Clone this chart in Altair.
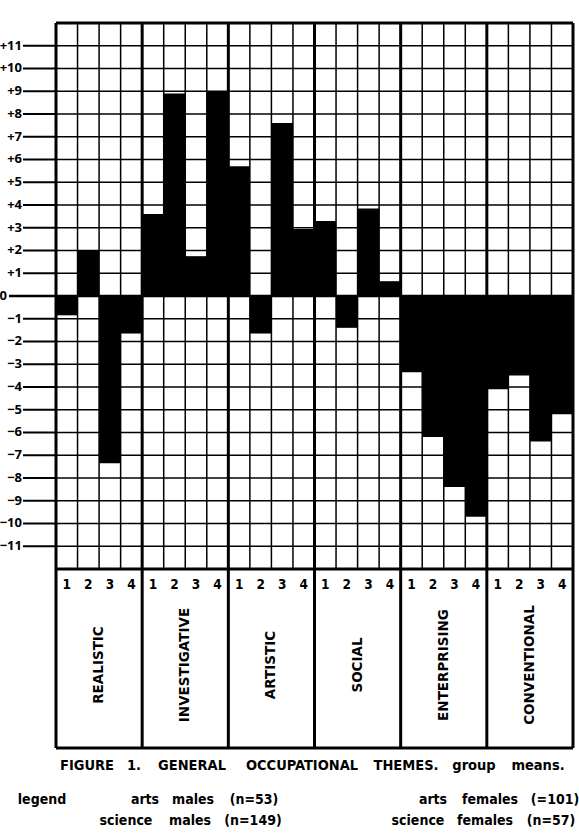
import altair as alt
import pandas as pd

# ---------------- data ----------------
themes = ["REALISTIC", "INVESTIGATIVE", "ARTISTIC", "SOCIAL", "ENTERPRISING", "CONVENTIONAL"]
groups = ["1", "2", "3", "4"]
realistic = [-0.85, 2.0, -7.35, -1.65]
investigative = [3.6, 8.9, 1.75, 9.0]
artistic = [5.7, -1.65, 7.6, 2.95]
social = [3.3, -1.4, 3.85, 0.65]
enterprising = [-3.35, -6.2, -8.4, -9.7]
conventional = [-4.1, -3.5, -6.4, -5.2]
y_ticks = list(range(-11, 12))
caption_words = ["FIGURE", "1.", "GENERAL", "OCCUPATIONAL", "THEMES.", "group", "means."]
legend_row1 = ["legend", "arts", "males", "(n=53)", "arts", "females", "(=101)"]
legend_row2 = ["science", "males", "(n=149)", "science", "females", "(n=57)"]

# ---------------- layout ----------------
W, H = 517, 725
PAD_L, PAD_T = 56, 23
Y_TOP, Y_BOT = 12, -19.87
FONT = "DejaVu Sans Condensed, DejaVu Sans"
AXFONT = "Open Sans"

series = [realistic, investigative, artistic, social, enterprising, conventional]
rows = []
for ti, (t, vals) in enumerate(zip(themes, series)):
    for gi, (g, v) in enumerate(zip(groups, vals)):
        idx = ti * 4 + gi
        rows.append({"theme": t, "group": g, "x0": idx, "x1": idx + 1,
                     "xc": idx + 0.5, "value": v, "base": 0})
bars_df = pd.DataFrame(rows)

xs = alt.Scale(domain=[0, 24], nice=False, zero=False)
ys = alt.Scale(domain=[Y_BOT, Y_TOP], nice=False, zero=False)


def fmt(v):
    if v > 0:
        return "+" + str(v)
    if v < 0:
        return "\u2212" + str(-v)
    return "0"


# hand-drawn style axis: ticks and labels
tick_df = pd.DataFrame({"y": [v for v in y_ticks if v != 0],
                        "lab": [fmt(v) for v in y_ticks if v != 0]})
ticks = alt.Chart(tick_df).mark_rule(color="black", strokeWidth=2).encode(
    x=alt.value(-33), x2=alt.value(0), y=alt.Y("y:Q", scale=ys, axis=None),
)
tick_labels = alt.Chart(tick_df).mark_text(
    font=AXFONT, fontSize=13, fontWeight="bold", color="black", align="right", baseline="middle",
).encode(
    x=alt.value(-34), y=alt.Y("y:Q", scale=ys, axis=None), text="lab:N",
)
zdf = pd.DataFrame({"y": [0], "lab": [fmt(0)]})
zero_tick = alt.Chart(zdf).mark_rule(color="black", strokeWidth=2.5).encode(
    x=alt.value(-47), x2=alt.value(0), y=alt.Y("y:Q", scale=ys, axis=None),
)
zero_label = alt.Chart(zdf).mark_text(
    font=AXFONT, fontSize=13, fontWeight="bold", color="black", align="right", baseline="middle",
).encode(
    x=alt.value(-49), y=alt.Y("y:Q", scale=ys, axis=None), text="lab:N",
)

# horizontal thin grid lines
h_df = pd.DataFrame({"y": [v for v in range(-11, 12) if v != 0], "x0": 0, "x1": 24})
h_rules = alt.Chart(h_df).mark_rule(color="black", strokeWidth=1.5).encode(
    x=alt.X("x0:Q", scale=xs, axis=None), x2="x1:Q",
    y=alt.Y("y:Q", scale=ys, axis=None),
)

zero_df = pd.DataFrame({"y": [0], "x0": [0], "x1": [24]})
zero_rule = alt.Chart(zero_df).mark_rule(color="black", strokeWidth=2.5).encode(
    x=alt.X("x0:Q", scale=xs, axis=None), x2="x1:Q",
    y=alt.Y("y:Q", scale=ys, axis=None),
)

v_df = pd.DataFrame({"x": [v for v in range(1, 24) if v % 4 != 0], "y0": -12, "y1": 12})
v_rules = alt.Chart(v_df).mark_rule(color="black", strokeWidth=1.5).encode(
    x=alt.X("x:Q", scale=xs, axis=None),
    y=alt.Y("y0:Q", scale=ys, axis=None), y2="y1:Q",
)

vt_df = pd.DataFrame({"x": list(range(0, 25, 4)), "y0": Y_BOT, "y1": Y_TOP})
vt_rules = alt.Chart(vt_df).mark_rule(color="black", strokeWidth=3).encode(
    x=alt.X("x:Q", scale=xs, axis=None),
    y=alt.Y("y0:Q", scale=ys, axis=None), y2="y1:Q",
)

ht_df = pd.DataFrame({"y": [Y_TOP, -12, Y_BOT], "x0": 0, "x1": 24})
ht_rules = alt.Chart(ht_df).mark_rule(color="black", strokeWidth=3).encode(
    x=alt.X("x0:Q", scale=xs, axis=None), x2="x1:Q",
    y=alt.Y("y:Q", scale=ys, axis=None),
)

bars = alt.Chart(bars_df).mark_rect(color="black").encode(
    x=alt.X("x0:Q", scale=xs, axis=None), x2="x1:Q",
    y=alt.Y("base:Q", scale=ys, axis=None), y2="value:Q",
)

nums = alt.Chart(bars_df).mark_text(
    font=FONT, fontSize=13.5, fontWeight="bold", color="black", baseline="middle"
).encode(
    x=alt.X("xc:Q", scale=xs, axis=None), y=alt.value(585 - PAD_T), text="group:N",
)

theme_df = pd.DataFrame({"theme": themes, "xc": [4 * i + 2 for i in range(6)]})
theme_text = alt.Chart(theme_df).mark_text(
    font="DejaVu Sans", fontSize=13.5, fontWeight="bold", color="black", angle=270,
    baseline="middle", align="center",
).encode(
    x=alt.X("xc:Q", scale=xs, axis=None), y=alt.value(665 - PAD_T), text="theme:N",
)

# caption & legend words, positioned by their centres (page pixels)
cap_cx = [87, 134, 192, 302, 406, 474, 538]
cap_df = pd.DataFrame({"w": caption_words, "px": [c - PAD_L for c in cap_cx]})
caption = alt.Chart(cap_df).mark_text(
    font=FONT, fontSize=14.5, fontWeight="bold", color="black", baseline="middle", align="center",
).encode(
    x=alt.X("px:Q", scale=None), y=alt.value(766 - PAD_T), text="w:N",
)

leg1_cx = [42, 145, 193, 254, 433, 490, 555]
leg2_cx = [126, 190, 253, 418, 485, 551]
leg_df = pd.DataFrame({
    "w": legend_row1 + legend_row2,
    "px": [c - PAD_L for c in leg1_cx + leg2_cx],
    "py": [800 - PAD_T] * len(legend_row1) + [821 - PAD_T] * len(legend_row2),
})
legend = alt.Chart(leg_df).mark_text(
    font=FONT, fontSize=14, fontWeight="bold", color="black", baseline="middle", align="center",
).encode(
    x=alt.X("px:Q", scale=None), y=alt.Y("py:Q", scale=None), text="w:N",
)

chart = alt.layer(
    h_rules, v_rules, bars, zero_rule, vt_rules, ht_rules,
    ticks, tick_labels, zero_tick, zero_label,
    nums, theme_text, caption, legend
).properties(
    width=W, height=H,
    autosize=alt.AutoSizeParams(type="none"),
    padding={"left": PAD_L, "top": PAD_T, "right": 579 - PAD_L - W, "bottom": 836 - PAD_T - H},
    background="white",
).configure_view(stroke=None)

chart.save("out.html", embed_options={"renderer": "svg", "actions": False})
